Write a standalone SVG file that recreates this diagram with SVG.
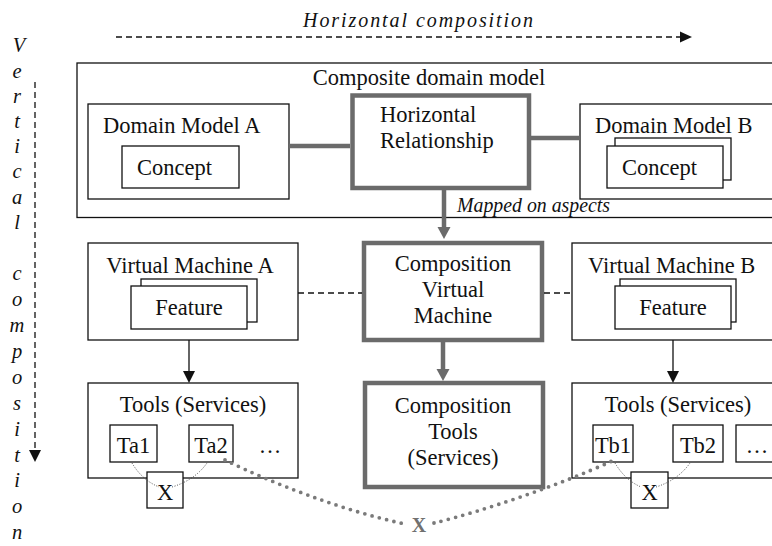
<svg xmlns="http://www.w3.org/2000/svg" width="772" height="546" viewBox="0 0 772 546">
<defs>
<style>
.t{font-family:"Liberation Serif","Times New Roman",serif;font-size:22.5px;fill:#111}
.it{font-family:"Liberation Serif","Times New Roman",serif;font-style:italic;fill:#111}
.box{fill:#fff;stroke:#111;stroke-width:1.3}
.gbox{fill:#fff;stroke:#6b6b6b;stroke-width:4.5}
.gline{stroke:#6b6b6b;stroke-width:4.5;fill:none}
.dash{stroke:#111;stroke-width:1.3;stroke-dasharray:6 4;fill:none}
.thin{stroke:#111;stroke-width:1.3;fill:none}
.dot{stroke:#444;stroke-width:1;stroke-dasharray:1 1.6;fill:none}
.bigdot{stroke:#7a7a7a;stroke-width:3.8;stroke-dasharray:0 7.5;stroke-linecap:round;fill:none}
</style>
</defs>
<rect width="772" height="546" fill="#fff"/>

<g id="horizontal-axis">
<text class="it" x="303" y="27" font-size="20" textLength="230" lengthAdjust="spacing">Horizontal composition</text>
<line class="dash" x1="116" y1="37" x2="681" y2="37"/>
<polygon points="680,31.5 692,37 680,42.5" fill="#111"/>
</g>
<g id="vertical-axis" class="it" font-size="20.5" text-anchor="middle">
<text x="19" y="52">V</text>
<text x="17" y="78">e</text>
<text x="17" y="103">r</text>
<text x="17" y="128">t</text>
<text x="17" y="153">i</text>
<text x="17" y="178">c</text>
<text x="17" y="204">a</text>
<text x="17" y="229">l</text>
<text x="17" y="280">c</text>
<text x="17" y="306">o</text>
<text x="17" y="332">m</text>
<text x="17" y="358">p</text>
<text x="17" y="384">o</text>
<text x="17" y="410">s</text>
<text x="17" y="436">i</text>
<text x="17" y="462">t</text>
<text x="17" y="487">i</text>
<text x="17" y="513">o</text>
<text x="17" y="539">n</text>
<line class="dash" x1="35" y1="82" x2="35" y2="451"/>
<polygon points="29,450 41,450 35,462" fill="#111" stroke="none"/>
</g>

<g id="composite">
<rect class="box" x="77" y="63" width="710" height="154.5"/>
<text class="t" x="429" y="85" text-anchor="middle">Composite domain model</text>
</g>

<g id="domain-model-a">
<rect class="box" x="88" y="104" width="201" height="95"/>
<text class="t" x="103" y="133">Domain Model A</text>
<rect class="box" x="122" y="146" width="117" height="42"/>
<text class="t" x="137" y="175">Concept</text>
</g>

<g id="horizontal-relationship">
<rect class="gbox" x="352.5" y="95.5" width="176.5" height="92.5"/>
<text class="t" x="380" y="122">Horizontal</text>
<text class="t" x="380" y="148">Relationship</text>
</g>

<g id="domain-model-b">
<rect class="box" x="580" y="104" width="200" height="95"/>
<text class="t" x="595" y="133">Domain Model B</text>
<rect class="box" x="615" y="138" width="116" height="42"/>
<rect class="box" x="607" y="146" width="116" height="42"/>
<text class="t" x="622" y="175">Concept</text>
</g>

<g id="mapped-label">
<text class="it" x="457" y="212" font-size="21" textLength="153" lengthAdjust="spacingAndGlyphs">Mapped on aspects</text>
</g>

<g id="virtual-machine-a">
<rect class="box" x="88" y="243" width="210" height="97"/>
<text class="t" x="190" y="273" text-anchor="middle">Virtual Machine A</text>
<rect class="box" x="141" y="279" width="116" height="43"/>
<rect class="box" x="131" y="286" width="116" height="43"/>
<text class="t" x="189" y="315" text-anchor="middle">Feature</text>
</g>

<g id="composition-vm">
<rect class="gbox" x="364" y="243" width="178" height="97"/>
<text class="t" x="453" y="271" text-anchor="middle">Composition</text>
<text class="t" x="453" y="297" text-anchor="middle">Virtual</text>
<text class="t" x="453" y="323" text-anchor="middle">Machine</text>
</g>

<g id="virtual-machine-b">
<rect class="box" x="572" y="243" width="210" height="97"/>
<text class="t" x="588" y="273">Virtual Machine B</text>
<rect class="box" x="620" y="279" width="116" height="43"/>
<rect class="box" x="615" y="286" width="116" height="43"/>
<text class="t" x="673" y="315" text-anchor="middle">Feature</text>
</g>

<g id="tools-a">
<rect class="box" x="88" y="383" width="210" height="95"/>
<text class="t" x="193" y="412" text-anchor="middle">Tools (Services)</text>
<rect class="box" x="110" y="425" width="47" height="37"/>
<text class="t" x="133.5" y="453" text-anchor="middle">Ta1</text>
<rect class="box" x="189" y="425" width="44" height="37"/>
<text class="t" x="211" y="453" text-anchor="middle">Ta2</text>
<text class="t" x="270" y="453" text-anchor="middle">…</text>
<rect class="box" x="147" y="472" width="36" height="36"/>
<text class="t" x="165" y="500" text-anchor="middle">X</text>
</g>

<g id="composition-tools">
<rect class="gbox" x="365" y="383" width="178" height="104"/>
<text class="t" x="453" y="413" text-anchor="middle">Composition</text>
<text class="t" x="453" y="439" text-anchor="middle">Tools</text>
<text class="t" x="453" y="465" text-anchor="middle">(Services)</text>
</g>

<g id="tools-b">
<rect class="box" x="572" y="383" width="210" height="95"/>
<text class="t" x="678" y="412" text-anchor="middle">Tools (Services)</text>
<rect class="box" x="593" y="425" width="40" height="37"/>
<text class="t" x="613" y="453" text-anchor="middle">Tb1</text>
<rect class="box" x="673" y="425" width="50" height="37"/>
<text class="t" x="698" y="453" text-anchor="middle">Tb2</text>
<rect class="box" x="736" y="425" width="40" height="37"/>
<text class="t" x="757" y="453" text-anchor="middle">…</text>
<rect class="box" x="631" y="472" width="37" height="36"/>
<text class="t" x="649.5" y="500" text-anchor="middle">X</text>
</g>

<g id="connectors">
<line class="gline" x1="289" y1="146" x2="350" y2="146"/>
<line class="gline" x1="531" y1="138" x2="580" y2="138"/>
<line class="gline" x1="444" y1="190" x2="444" y2="228"/>
<polygon points="437.5,227 450.5,227 444,239" fill="#6b6b6b"/>
<line class="dash" x1="298" y1="293" x2="362" y2="293"/>
<line class="dash" x1="544" y1="293" x2="572" y2="293"/>
<line class="thin" x1="189" y1="340" x2="189" y2="372"/>
<polygon points="183,371 195,371 189,383" fill="#111"/>
<line class="thin" x1="673" y1="340" x2="673" y2="372"/>
<polygon points="667,371 679,371 673,383" fill="#111"/>
<line class="gline" x1="443" y1="342" x2="443" y2="370"/>
<polygon points="436.5,369 449.5,369 443,381" fill="#6b6b6b"/>
<path class="bigdot" d="M225,460 C270,482 340,510 405,524"/>
<path class="bigdot" d="M434,523 C480,512 560,485 612,461"/>
<text x="419" y="532" text-anchor="middle" font-family="Liberation Serif, serif" font-weight="bold" font-size="20" fill="#707070">X</text>
<path class="dot" d="M132,463 Q142,480 159,487"/>
<path class="dot" d="M172,487 Q195,480 207,463"/>
<path class="dot" d="M615,463 Q625,480 641,487"/>
<path class="dot" d="M656,487 Q678,480 690,463"/>
</g>
</svg>
